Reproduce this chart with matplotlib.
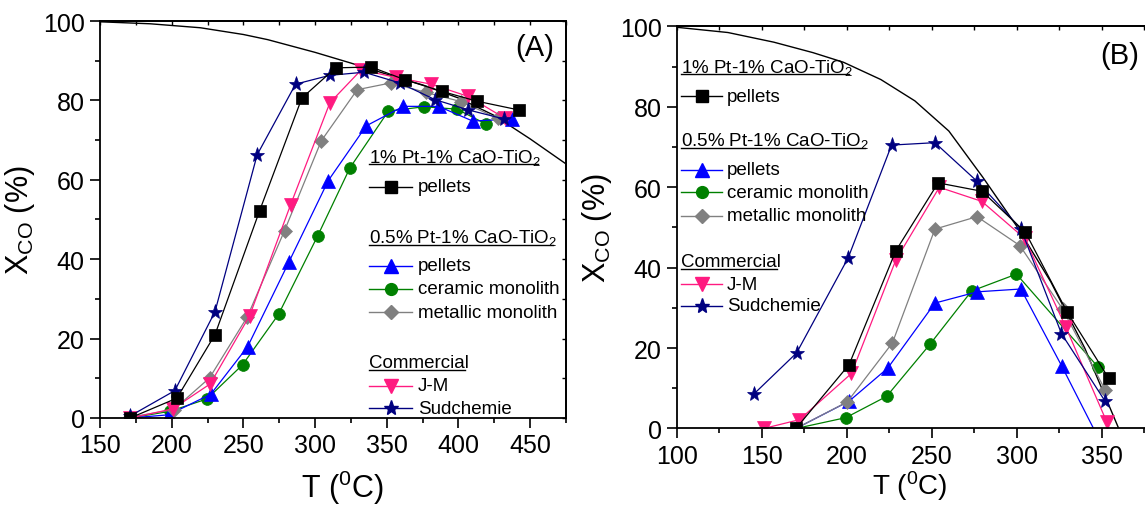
import numpy as np
import matplotlib
matplotlib.use("Agg")
import matplotlib.pyplot as plt
from matplotlib.ticker import MultipleLocator

plt.rcParams["font.family"] = ["Liberation Sans", "DejaVu Sans"]
plt.rcParams["mathtext.default"] = "regular"

# ---- panel A data ----
eqA_T = [150, 185, 220, 250, 267, 300, 325, 350, 375, 400, 425, 450, 475]
eqA_X = [99.8, 99.3, 98.3, 96.6, 95.3, 92.1, 89.4, 86.6, 83.9, 80.6, 76.2, 70.3, 64.0]

a_pel1_T = [171, 203.6, 230.2, 261.3, 290.8, 314.3, 339.2, 362.7, 388.2, 412.9, 442.0]
a_pel1_X = [0.0, 5.0, 21.0, 52.2, 80.6, 88.2, 88.4, 85.2, 82.3, 79.8, 77.6]
a_pel05_T = [171, 197.8, 227.3, 253.0, 281.9, 309.2, 335.7, 361.6, 386.1, 409.9, 437.2]
a_pel05_X = [0.0, 0.8, 6.0, 18.0, 39.4, 59.8, 73.6, 78.5, 78.5, 74.8, 75.3]
a_cer_T = [171, 198.9, 224.6, 249.4, 274.5, 301.7, 324.3, 351.1, 376.0, 398.9, 418.9]
a_cer_X = [0.0, 1.7, 4.8, 13.4, 26.1, 45.8, 63.0, 77.3, 78.4, 77.8, 74.1]
a_met_T = [171, 201.3, 226.4, 252.6, 278.7, 304.3, 329.4, 352.8, 377.3, 401.7, 427.3]
a_met_X = [0.2, 2.1, 10.1, 25.4, 47.2, 69.8, 82.7, 84.4, 82.0, 79.7, 75.5]
a_jm_T = [171, 200.8, 226.9, 254.4, 282.9, 310.3, 332.2, 356.3, 380.8, 406.8, 432.4]
a_jm_X = [0.0, 2.3, 8.6, 25.8, 53.7, 79.4, 87.7, 85.8, 84.1, 81.0, 75.5]
a_sud_T = [171, 202.2, 230.2, 259.6, 286.4, 310.1, 334.1, 359.1, 383.6, 406.9, 432.0]
a_sud_X = [0.5, 6.9, 26.8, 66.3, 84.1, 86.3, 87.1, 84.4, 80.2, 77.6, 75.3]

# ---- panel B data ----
eqB_T = [100, 130, 157, 180, 198, 220, 240, 260, 280, 300, 320, 340, 360]
eqB_X = [99.8, 98.5, 96.1, 93.5, 91.1, 86.8, 81.5, 74.0, 62.5, 50.3, 36.5, 20.0, 0.0]

b_pel1_T = [170, 201.3, 228.8, 253.7, 279.6, 305.1, 329.6, 354.1]
b_pel1_X = [0.0, 15.9, 44.2, 61.1, 59.0, 48.8, 29.0, 12.5]
b_pel05_T = [170, 201.3, 224.0, 251.8, 276.8, 302.4, 326.5, 350]
b_pel05_X = [0.0, 6.8, 15.0, 31.2, 34.0, 34.7, 15.5, -4.0]
b_cer_T = [170, 199.4, 223.4, 248.8, 273.4, 299.8, 348.0]
b_cer_X = [0.0, 2.7, 8.0, 20.9, 34.2, 38.4, 15.2]
b_met_T = [170, 200.2, 226.8, 251.8, 276.6, 301.8, 327.0, 352.0]
b_met_X = [0.0, 6.6, 21.3, 49.6, 52.7, 45.5, 29.7, 9.6]
b_jm_T = [151, 172.1, 202.7, 228.8, 254.4, 279.4, 304.6, 328.9, 353.1]
b_jm_X = [0.0, 2.2, 13.7, 41.9, 60.0, 56.5, 47.3, 25.2, 1.5]
b_sud_T = [145.3, 170.4, 200.8, 226.3, 251.8, 276.6, 302.4, 326.3, 351.8]
b_sud_X = [8.6, 18.8, 42.5, 70.5, 71.1, 61.5, 49.7, 23.6, 6.9]

PINK = "#ff1a80"
styles = {
    "pel1": dict(color="black", marker="s", ms=8),
    "pel05": dict(color="#0000ff", marker="^", ms=9.5),
    "cer": dict(color="#008000", marker="o", ms=8.5),
    "met": dict(color="#808080", marker="D", ms=7.5),
    "jm": dict(color=PINK, marker="v", ms=9.5),
    "sud": dict(color="#000080", marker="*", ms=11),
}

fig = plt.figure(figsize=(11.45, 5.06), dpi=100)
axA = fig.add_axes([0.08734, 0.17194, 0.40699, 0.78458])
axB = fig.add_axes([0.59127, 0.15119, 0.41397, 0.79447])


def plot_series(ax, T, X, key):
    st = styles[key]
    ax.plot(T, X, color=st["color"], lw=0.9, marker=st["marker"], ms=st["ms"],
            mfc=st["color"], mec=st["color"], mew=0.5)


def style_axis(ax, xlim, xmaj, xlabel_size=22):
    ax.set_xlim(*xlim)
    ax.set_ylim(0, 100)
    ax.xaxis.set_major_locator(MultipleLocator(xmaj))
    ax.xaxis.set_minor_locator(MultipleLocator(xmaj / 2))
    ax.yaxis.set_major_locator(MultipleLocator(20))
    ax.yaxis.set_minor_locator(MultipleLocator(10))
    ax.tick_params(which="major", direction="out", length=7, width=1.2,
                   labelsize=18, pad=4)
    ax.tick_params(which="minor", direction="out", length=3.5, width=1.2)
    for s in ax.spines.values():
        s.set_linewidth(1.3)
    top = ax.secondary_xaxis("top")
    top.xaxis.set_major_locator(MultipleLocator(xmaj))
    top.xaxis.set_minor_locator(MultipleLocator(xmaj / 2))
    top.tick_params(which="both", direction="in", length=3, width=1, labeltop=False)
    top.spines["top"].set_linewidth(1.3)
    right = ax.secondary_yaxis("right")
    right.yaxis.set_major_locator(MultipleLocator(20))
    right.yaxis.set_minor_locator(MultipleLocator(10))
    right.tick_params(which="both", direction="in", length=3, width=1, labelright=False)
    right.spines["right"].set_linewidth(1.3)
    ax.set_ylabel(r"X$_{CO}$ (%)", fontsize=22, labelpad=4)
    ax.set_xlabel(r"T ($^{0}$C)", fontsize=xlabel_size)


def legend_entry(ax, x0, x1, xm, xt, y, key, label):
    st = styles[key]
    ax.plot([x0, x1], [y, y], transform=ax.transAxes, color=st["color"], lw=1.0,
            clip_on=False)
    ax.plot([xm], [y], transform=ax.transAxes, color=st["color"], marker=st["marker"],
            ms=st["ms"], mec=st["color"], clip_on=False, ls="none")
    ax.text(xt, y, label, transform=ax.transAxes, fontsize=13.5, va="center", ha="left")


def header(ax, x, y_line, label):
    t = ax.text(x, y_line, label, transform=ax.transAxes, fontsize=13.5,
                va="baseline", ha="left")
    t._uline = y_line
    return t


# ---- panel A ----
axA.plot(eqA_T, eqA_X, color="black", lw=1.0)
plot_series(axA, a_cer_T, a_cer_X, "cer")
plot_series(axA, a_pel05_T, a_pel05_X, "pel05")
plot_series(axA, a_met_T, a_met_X, "met")
plot_series(axA, a_jm_T, a_jm_X, "jm")
plot_series(axA, a_sud_T, a_sud_X, "sud")
plot_series(axA, a_pel1_T, a_pel1_X, "pel1")
style_axis(axA, (150, 475), 50)
axA.xaxis.set_label_coords(0.52, -0.125)
axA.text(0.974, 0.934, "(A)", transform=axA.transAxes, fontsize=21,
         ha="right", va="center")

hdrs = []
xa = (0.577, 0.670, 0.624, 0.682)
hdrs.append(header(axA, 0.577, 0.645, r"1% Pt-1% CaO-TiO$_2$"))
legend_entry(axA, *xa, 0.582, "pel1", "pellets")
hdrs.append(header(axA, 0.577, 0.443, r"0.5% Pt-1% CaO-TiO$_2$"))
legend_entry(axA, *xa, 0.384, "pel05", "pellets")
legend_entry(axA, *xa, 0.325, "cer", "ceramic monolith")
legend_entry(axA, *xa, 0.266, "met", "metallic monolith")
hdrs.append(header(axA, 0.577, 0.128, "Commercial"))
legend_entry(axA, *xa, 0.081, "jm", "J-M")
legend_entry(axA, *xa, 0.024, "sud", "Sudchemie")

# ---- panel B ----
axB.plot(eqB_T, eqB_X, color="black", lw=1.0)
plot_series(axB, b_cer_T, b_cer_X, "cer")
plot_series(axB, b_pel05_T, b_pel05_X, "pel05")
plot_series(axB, b_met_T, b_met_X, "met")
plot_series(axB, b_jm_T, b_jm_X, "jm")
plot_series(axB, b_sud_T, b_sud_X, "sud")
plot_series(axB, b_pel1_T, b_pel1_X, "pel1")
style_axis(axB, (100, 379), 50, xlabel_size=20)
axB.xaxis.set_label_coords(0.49, -0.1)
axB.text(0.976, 0.929, "(B)", transform=axB.transAxes, fontsize=21,
         ha="right", va="center")

xb = (0.0078, 0.0943, 0.0517, 0.1055)
hdrs.append(header(axB, 0.0078, 0.887, r"1% Pt-1% CaO-TiO$_2$"))
legend_entry(axB, *xb, 0.826, "pel1", "pellets")
hdrs.append(header(axB, 0.0078, 0.704, r"0.5% Pt-1% CaO-TiO$_2$"))
legend_entry(axB, *xb, 0.644, "pel05", "pellets")
legend_entry(axB, *xb, 0.588, "cer", "ceramic monolith")
legend_entry(axB, *xb, 0.529, "met", "metallic monolith")
hdrs.append(header(axB, 0.0078, 0.404, "Commercial"))
legend_entry(axB, *xb, 0.359, "jm", "J-M")
legend_entry(axB, *xb, 0.305, "sud", "Sudchemie")

# underline the group headers
fig.canvas.draw()
rend = fig.canvas.get_renderer()
for t in hdrs:
    ax = t.axes
    bb = t.get_window_extent(rend).transformed(ax.transAxes.inverted())
    y = t._uline - 0.006
    ax.plot([bb.x0, bb.x1 - 0.008], [y, y], transform=ax.transAxes, color="black",
            lw=1.0, clip_on=False)

fig.savefig("out.png", dpi=100)
